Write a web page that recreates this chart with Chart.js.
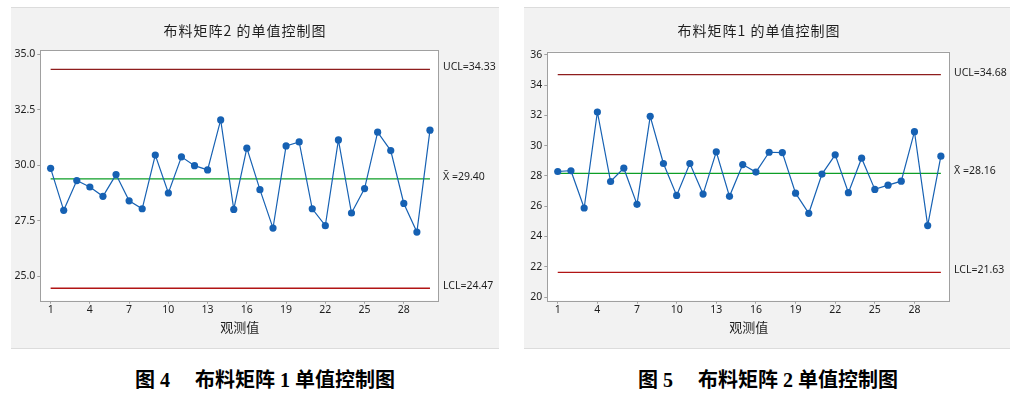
<!DOCTYPE html>
<html>
<head>
<meta charset="utf-8">
<script src="https://cdn.jsdelivr.net/npm/chart.js@4/dist/chart.umd.min.js"></script>
<style>
body { margin:0; background:#fff; width:1018px; height:399px; position:relative; overflow:hidden; }
.panel { position:absolute; top:7px; height:340px; background:#f2f2f2; border-top:1px solid #dcdcdc; border-bottom:1px solid #dcdcdc; }
.panel canvas { position:absolute; left:0; top:0; }
.caption { position:absolute; top:364px; transform:translateX(-50%); white-space:pre; color:#000;
  font: bold 20px 'Liberation Serif', 'Noto Sans CJK SC', serif; }
</style>
</head>
<body>
<div class="panel" style="left:11px;width:488px"><canvas id="chart2" width="488" height="340"></canvas></div>
<div class="panel" style="left:524px;width:486px"><canvas id="chart1" width="486" height="340"></canvas></div>
<div class="caption" style="left:265px">图 4　 布料矩阵 1 单值控制图</div>
<div class="caption" style="left:768px">图 5　 布料矩阵 2 单值控制图</div>

<script>
// observations 1..30
const xTicks = [1, 4, 7, 10, 13, 16, 19, 22, 25, 28]

// 布料矩阵2 (left chart)
const matrix2Obs = [29.87, 27.98, 29.32, 29.03, 28.61, 29.59, 28.41, 28.05, 30.47, 28.76,
                    30.39, 29.99, 29.80, 32.05, 28.02, 30.78, 28.91, 27.18, 30.88, 31.06,
                    28.05, 27.29, 31.15, 27.86, 28.96, 31.50, 30.67, 28.29, 27.00, 31.59]
const matrix2Limits = [34.33, 29.40, 24.47]   // UCL, mean, LCL
const matrix2YTicks = [25, 27.5, 30, 32.5, 35]

// 布料矩阵1 (right chart)
const matrix1Obs = [28.29, 28.34, 25.88, 32.22, 27.63, 28.51, 26.12, 31.93, 28.82, 26.71,
                    28.82, 26.80, 29.59, 26.65, 28.75, 28.25, 29.56, 29.54, 26.86, 25.53,
                    28.12, 29.39, 26.89, 29.17, 27.11, 27.39, 27.65, 30.92, 24.72, 29.30]
const matrix1Limits = [34.68, 28.16, 21.63]
const matrix1YTicks = [20, 22, 24, 26, 28, 30, 32, 34, 36]

const COLORS = {
  data: '#1661b3',
  ucl: '#8e1d1d',
  mean: '#0d9e26',
  lcl: '#b11414',
  axis: '#a0a0a0',
  text: '#1e1e1e'
}
const tickFont = { family: "'Noto Sans', 'DejaVu Sans', sans-serif", size: 10.5 }

// white plot box, frame and the text around it
const controlText = {
  id: 'controlText',
  beforeDraw(chart) {
    const a = chart.chartArea
    const ctx = chart.ctx
    ctx.save()
    ctx.fillStyle = '#fff'
    ctx.fillRect(a.left, a.top, a.right - a.left, a.bottom - a.top)
    ctx.restore()
  },
  afterDraw(chart) {
    const o = chart.options.plugins.controlText
    const a = chart.chartArea
    const ctx = chart.ctx
    const ys = chart.scales.y
    ctx.save()
    ctx.strokeStyle = COLORS.axis
    ctx.lineWidth = 1
    ctx.strokeRect(Math.round(a.left) + 0.5, Math.round(a.top) + 0.5,
                   Math.round(a.right - a.left) - 1, Math.round(a.bottom - a.top))

    ctx.fillStyle = COLORS.text
    ctx.textAlign = 'center'
    ctx.textBaseline = 'middle'
    ctx.font = "14px 'Noto Sans CJK SC', sans-serif"
    ctx.letterSpacing = '1px'
    ctx.fillText(o.title, o.titleX, 23)
    ctx.letterSpacing = '0px'
    ctx.font = "13px 'Noto Sans CJK SC', sans-serif"
    ctx.fillText('观测值', (a.left + a.right) / 2, 319)

    ctx.textAlign = 'left'
    ctx.font = "10.5px 'Noto Sans', 'DejaVu Sans', sans-serif"
    const names = ['UCL=', 'X\u0304 =', 'LCL=']
    o.limits.forEach(function (v, i) {
      ctx.fillText(names[i] + v.toFixed(2), a.right + 4, ys.getPixelForValue(v) - 2)
    })
    ctx.restore()
  }
}

function limitLine(v, color) {
  return {
    data: [{ x: 1, y: v }, { x: 30, y: v }],
    borderColor: color,
    borderWidth: 1.3,
    pointRadius: 0
  }
}

function makeChart(id, obs, limits, yTicks, yMin, yMax, yWidth, topPad, title, titleX, decimals) {
  const data = {
    datasets: [
      {
        data: obs.map(function (v, i) { return { x: i + 1, y: v } }),
        borderColor: COLORS.data,
        backgroundColor: COLORS.data,
        borderWidth: 1.2,
        pointRadius: 3.6,
        pointBorderWidth: 0,
        order: 0
      },
      limitLine(limits[0], COLORS.ucl),
      limitLine(limits[1], COLORS.mean),
      limitLine(limits[2], COLORS.lcl)
    ]
  }

  const config = {
    type: 'line',
    data: data,
    options: {
      responsive: false,
      animation: false,
      devicePixelRatio: 1,
      layout: { padding: { top: topPad, right: 60, left: 0, bottom: 0 } },
      plugins: {
        legend: { display: false },
        tooltip: { enabled: false },
        controlText: { title: title, titleX: titleX, limits: limits }
      },
      scales: {
        x: {
          type: 'linear',
          min: 0.21,
          max: 30.69,
          afterBuildTicks: function (s) { s.ticks = xTicks.map(function (v) { return { value: v } }) },
          afterFit: function (s) { s.height = 47.3 },
          ticks: { font: tickFont, color: COLORS.text, padding: 0, maxRotation: 0 },
          grid: { drawOnChartArea: false, tickLength: 3, color: COLORS.axis },
          border: { display: false }
        },
        y: {
          min: yMin,
          max: yMax,
          afterBuildTicks: function (s) { s.ticks = yTicks.map(function (v) { return { value: v } }) },
          afterFit: function (s) { s.width = yWidth },
          ticks: {
            font: tickFont, color: COLORS.text, padding: 2,
            callback: function (v) { return Number(v).toFixed(decimals) }
          },
          grid: { drawOnChartArea: false, tickLength: 3, color: COLORS.axis },
          border: { display: false }
        }
      }
    },
    plugins: [controlText]
  }
  return new Chart(document.getElementById(id), config)
}

makeChart('chart2', matrix2Obs, matrix2Limits, matrix2YTicks, 23.91, 35.2, 29.3, 42, '布料矩阵2 的单值控制图', 234, 1)
makeChart('chart1', matrix1Obs, matrix1Limits, matrix1YTicks, 19.76, 36.2, 23.3, 43.7, '布料矩阵1 的单值控制图', 235, 0)
</script>
</body>
</html>
